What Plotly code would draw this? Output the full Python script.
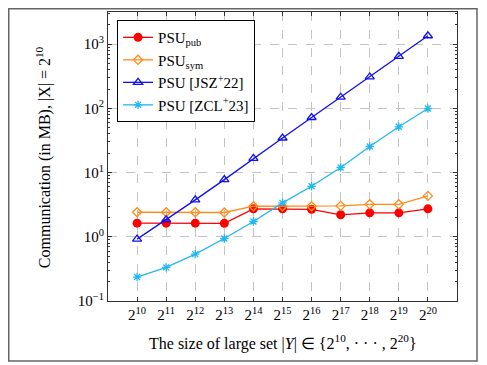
import plotly.graph_objects as go

exponents = [10, 11, 12, 13, 14, 15, 16, 17, 18, 19, 20]
x_tick_labels = ["2<sup>%d</sup>" % e for e in exponents]

psu_pub = [1.63, 1.63, 1.63, 1.62, 2.72, 2.72, 2.68, 2.2, 2.36, 2.36, 2.72]
psu_sym = [2.41, 2.41, 2.41, 2.39, 2.99, 2.99, 2.99, 3.03, 3.2, 3.2, 4.33]
psu_jsz = [0.92, 1.84, 3.75, 7.76, 16.6, 34.5, 72, 149, 308, 646, 1350]
psu_zcl = [0.236, 0.334, 0.537, 0.94, 1.73, 3.37, 6.11, 12.0, 25.5, 51.6, 99.3]

y_tick_vals = [0.1, 1, 10, 100, 1000]
y_tick_labels = ["10<sup>\u22121</sup>", "10<sup>0</sup>", "10<sup>1</sup>", "10<sup>2</sup>", "10<sup>3</sup>"]
y_minor_vals = [m * d for d in [0.1, 1, 10, 100, 1000] for m in range(2, 10)]

FONT = "Liberation Serif"

# page has an 8px body margin, so the figure is sized/offset to compensate
W, H = 479, 357
ML, MR, MT, MB = 100, 30, 4, 64
PW, PH = W - ML - MR, H - MT - MB

fig = go.Figure()
fig.add_trace(go.Scatter(
    x=exponents, y=psu_pub, mode="lines+markers", name="PSU<sub>pub</sub>",
    line=dict(color="#ff0000", width=1.3),
    marker=dict(symbol="circle", size=9, color="#ff0000")))
fig.add_trace(go.Scatter(
    x=exponents, y=psu_sym, mode="lines+markers", name="PSU<sub>sym</sub>",
    line=dict(color="#ff8c1a", width=1.3),
    marker=dict(symbol="diamond-open", size=7, color="#ff8c1a", line=dict(width=1.3))))
fig.add_trace(go.Scatter(
    x=exponents, y=psu_jsz, mode="lines+markers", name="PSU [JSZ<sup>+</sup>22]",
    line=dict(color="#1010f0", width=1.3),
    marker=dict(symbol="triangle-up-open", size=8, color="#1010f0", line=dict(width=1.3))))
fig.add_trace(go.Scatter(
    x=exponents, y=psu_zcl, mode="lines+markers", name="PSU [ZCL<sup>+</sup>23]",
    line=dict(color="#22b8f0", width=1.3),
    marker=dict(symbol="asterisk-open", size=7, color="#22b8f0", line=dict(width=1.3, color="#22b8f0"))))

fig.update_layout(
    width=W, height=H,
    margin=dict(l=ML, r=MR, t=MT, b=MB, autoexpand=False),
    paper_bgcolor="white", plot_bgcolor="white",
    font=dict(family=FONT, size=15, color="black"),
    showlegend=True,
    legend=dict(
        x=0.026, y=0.972, xanchor="left", yanchor="top",
        bgcolor="white", bordercolor="black", borderwidth=1,
        font=dict(family=FONT, size=15),
        tracegroupgap=0, itemwidth=30,
    ),
    xaxis=dict(
        range=[9, 21], tickvals=exponents, ticktext=x_tick_labels,
        showgrid=True, gridcolor="#c4c4c4", griddash="dash", gridwidth=1,
        showline=True, linecolor="#333333", linewidth=1, mirror="ticks",
        ticks="inside", ticklen=4, tickcolor="#333333", zeroline=False,
        tickfont=dict(family=FONT, size=15),
    ),
    yaxis=dict(
        type="log", range=[-1, 3.5], tickvals=y_tick_vals, ticktext=y_tick_labels,
        showgrid=True, gridcolor="#c4c4c4", griddash="dash", gridwidth=1,
        showline=True, linecolor="#333333", linewidth=1, mirror="ticks",
        ticks="inside", ticklen=4, tickcolor="#333333", zeroline=False,
        tickfont=dict(family=FONT, size=15),
        minor=dict(tickmode="array", tickvals=y_minor_vals, ticks="inside", ticklen=2,
                   tickcolor="#333333", showgrid=False),
    ),
    annotations=[
        dict(text="The size of large set |<i>Y</i>| \u2208 {2<sup>10</sup>, \u00b7 \u00b7 \u00b7 , 2<sup>20</sup>}",
             xref="paper", yref="paper", x=0.5, y=-0.145, xanchor="center", yanchor="middle",
             showarrow=False, font=dict(family=FONT, size=16)),
        dict(text="Communication (in MB), |X| = 2<sup>10</sup>",
             xref="paper", yref="paper", x=-0.186, y=0.498, xanchor="center", yanchor="middle",
             textangle=-90, showarrow=False, font=dict(family=FONT, size=16)),
    ],
    shapes=[
        dict(type="rect", xref="paper", yref="paper",
             x0=(0.75 - ML) / PW, x1=(W - 10 - ML) / PW,
             y0=(PH + MT - (H - 4)) / PH, y1=(PH + MT - 0.75) / PH,
             line=dict(color="#666666", width=1.5), layer="above"),
    ],
)

fig.write_html("out.html")
